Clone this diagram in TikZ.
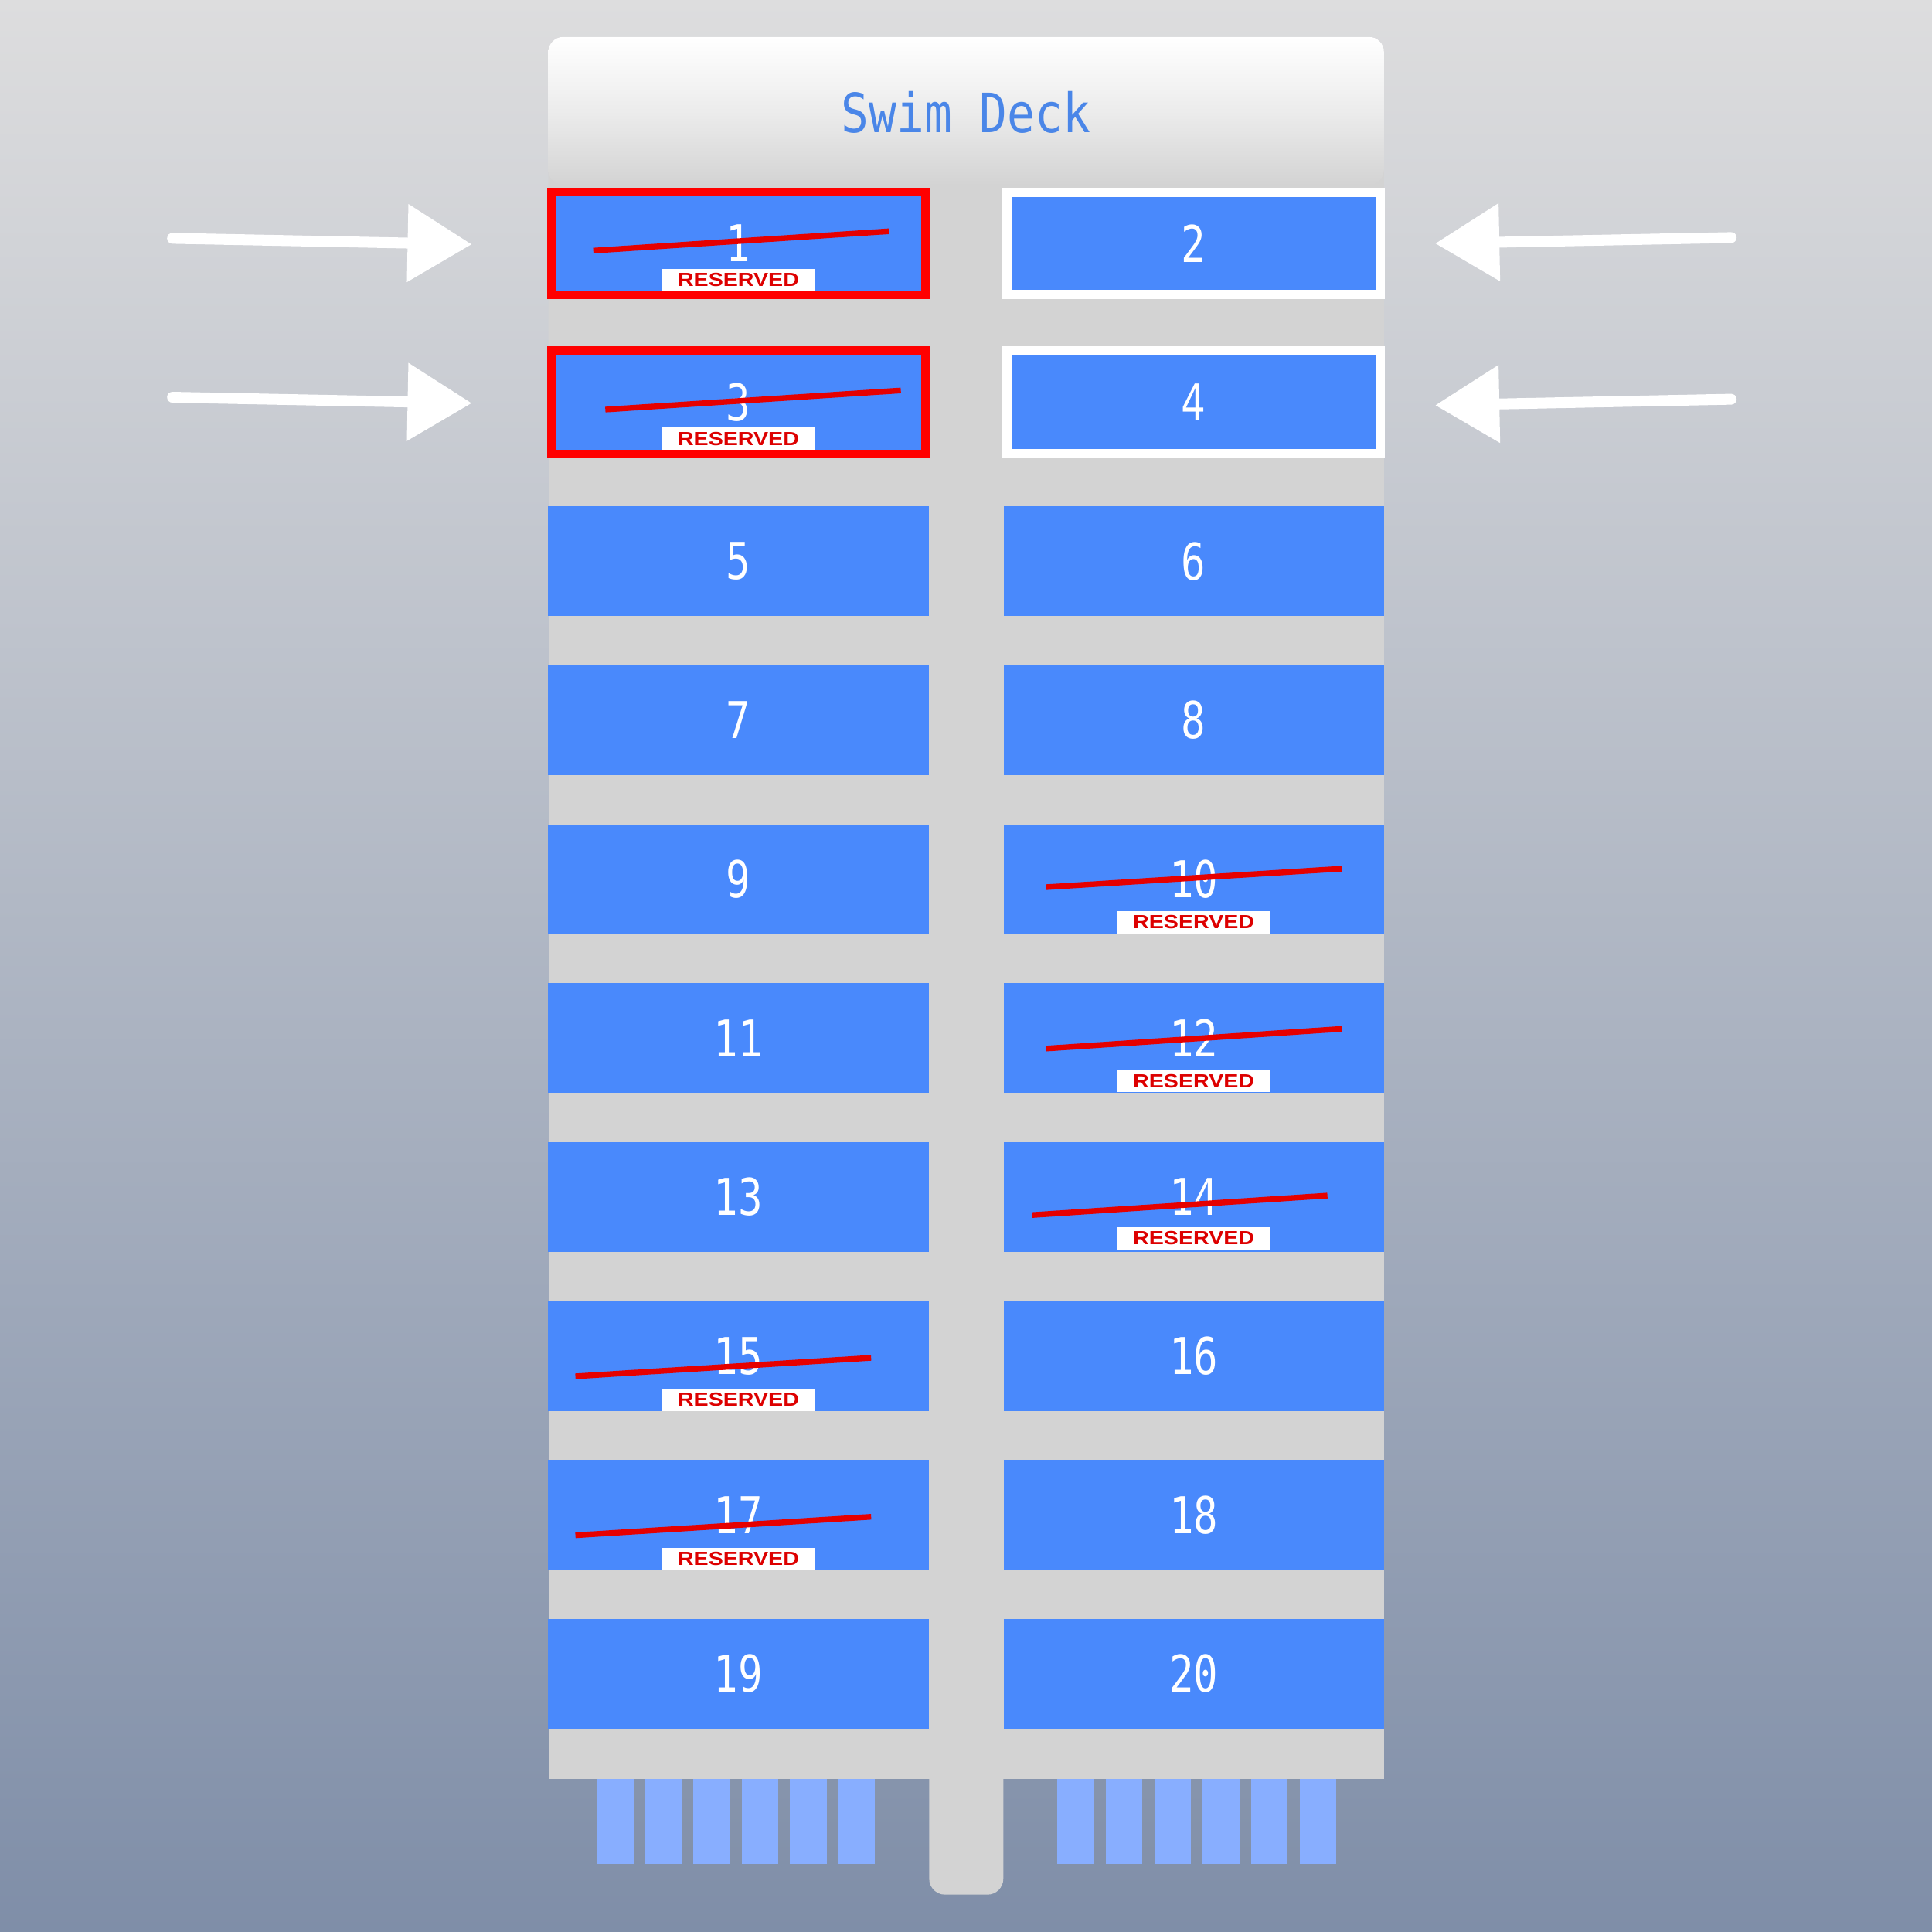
\documentclass[tikz,border=0pt]{standalone}
\usepackage{graphicx}
\usepackage{fontspec}
\newfontfamily\deckmono{DejaVu Sans Mono}
\newfontfamily\decksans{Liberation Sans}
\usetikzlibrary{arrows.meta}
\definecolor{bgtop}{RGB}{221,221,222}
\definecolor{bgbot}{RGB}{127,142,168}
\definecolor{deckgray}{RGB}{211,211,211}
\definecolor{slotblue}{RGB}{73,137,252}
\definecolor{titleblue}{RGB}{74,134,232}
\definecolor{barblue}{RGB}{136,174,255}
\definecolor{strikered}{RGB}{230,0,0}
\definecolor{restext}{RGB}{221,0,0}
\definecolor{borderred}{RGB}{255,0,0}
\newcommand\slotnum[1]{\scalebox{0.8}[1]{#1}}
\begin{document}
\begin{tikzpicture}[x={(0.01cm,0)}, y={(0,-0.01cm)},
  slotbox/.style={fill=slotblue, minimum width=3.085cm, minimum height=0.89cm, inner sep=0pt, text=white,
    font=\deckmono\fontsize{11.7}{11.7}\selectfont},
  titletext/.style={text=titleblue, inner sep=0pt, font=\deckmono\fontsize{12.5}{12.5}\selectfont},
  resbox/.style={fill=white, minimum width=1.25cm, minimum height=0.18cm, inner sep=0pt, text=restext,
    font=\decksans\bfseries\fontsize{4.4}{4.4}\selectfont},
  strikeline/.style={draw=strikered, line width=0.046cm},
  redframe/.style={draw=borderred, line width=0.065cm},
  whiteframe/.style={draw=white, line width=0.075cm},
  bigarrow/.style={draw=white, line width=0.088cm, line cap=round, -{Triangle[length=0.52cm, width=0.61cm]}}
]
\useasboundingbox (0,0) rectangle (1568,1568);
% background
\shade[top color=bgtop, bottom color=bgbot] (0,0) rectangle (1568,1568);
% ladder bars
\foreach \i in {0,...,5} {
  \fill[barblue] (484.4+39.2*\i,1443) rectangle ++(29.7,69.6);
  \fill[barblue] (858.3+39.3*\i,1443) rectangle ++(29.7,69.6);
}
% deck
\fill[deckgray, rounded corners=0.12cm] (445,30) rectangle (1123.2,300);
\fill[deckgray] (445,200) rectangle (1123.2,1443.6);
\fill[deckgray, rounded corners=0.13cm] (754.1,1380) rectangle (814.3,1537.7);
\shade[top color=white, bottom color=deckgray, middle color={rgb,255:red,236;green,236;blue,236}, rounded corners=0.12cm] (445,30) rectangle (1123.2,150);
\node[titletext] (title) at (784,91) {\scalebox{0.85}[1]{Swim Deck}};
% slots
\foreach \n in {1,...,20} {
  \pgfmathtruncatemacro\r{(\n-1)/2}
  \pgfmathtruncatemacro\c{mod(\n-1,2)}
  \node[slotbox] (s\n) at (599.3+369.5*\c, 197.5+129*\r) {\slotnum{\n}};
}
% reserved labels
\node[resbox] (r1) at ([shift={(0,29.5)}]s1.center) {\scalebox{1.16}[1]{RESERVED}};
\node[resbox] (r3) at ([shift={(0,29.5)}]s3.center) {\scalebox{1.16}[1]{RESERVED}};
\node[resbox] (r10) at ([shift={(0,35)}]s10.center) {\scalebox{1.16}[1]{RESERVED}};
\node[resbox] (r12) at ([shift={(0,35)}]s12.center) {\scalebox{1.16}[1]{RESERVED}};
\node[resbox] (r14) at ([shift={(0,33.5)}]s14.center) {\scalebox{1.16}[1]{RESERVED}};
\node[resbox] (r15) at ([shift={(0,35.5)}]s15.center) {\scalebox{1.16}[1]{RESERVED}};
\node[resbox] (r17) at ([shift={(0,35.5)}]s17.center) {\scalebox{1.16}[1]{RESERVED}};
% strike lines
\draw[strikeline] ([shift={(-117.8,5.9)}]s1.center) -- ([shift={(122,-9.8)}]s1.center);
\draw[strikeline] ([shift={(-108,5.9)}]s3.center) -- ([shift={(131.8,-9.6)}]s3.center);
\draw[strikeline] ([shift={(-119.8,6.5)}]s10.center) -- ([shift={(120.2,-8.5)}]s10.center);
\draw[strikeline] ([shift={(-119.8,8.5)}]s12.center) -- ([shift={(120.2,-7.5)}]s12.center);
\draw[strikeline] ([shift={(-131.1,14.6)}]s14.center) -- ([shift={(108.5,-1.2)}]s14.center);
\draw[strikeline] ([shift={(-132.3,16.5)}]s15.center) -- ([shift={(107.7,1.5)}]s15.center);
\draw[strikeline] ([shift={(-132.3,16.5)}]s17.center) -- ([shift={(107.7,1.5)}]s17.center);
% frames
\draw[redframe] ([shift={(3.25,3.25)}]s1.north west) rectangle ([shift={(-3.25,-3.25)}]s1.south east);
\draw[redframe] ([shift={(3.25,3.25)}]s3.north west) rectangle ([shift={(-3.25,-3.25)}]s3.south east);
\draw[whiteframe] ([shift={(3.75,3.75)}]s2.north west) rectangle ([shift={(-3.75,-3.75)}]s2.south east);
\draw[whiteframe] ([shift={(3.75,3.75)}]s4.north west) rectangle ([shift={(-3.75,-3.75)}]s4.south east);
% arrows
\coordinate (a1) at (140,193.4);
\coordinate (a3) at (140,322.4);
\coordinate (a2) at (1405,192.8);
\coordinate (a4) at (1405,324);
\draw[bigarrow] (a1) -- ([shift={(-61.4,0.8)}]s1.west);
\draw[bigarrow] (a3) -- ([shift={(-61.4,0.7)}]s3.west);
\draw[bigarrow] (a2) -- ([shift={(41,0.1)}]s2.east);
\draw[bigarrow] (a4) -- ([shift={(41,2.4)}]s4.east);
\end{tikzpicture}
\end{document}
